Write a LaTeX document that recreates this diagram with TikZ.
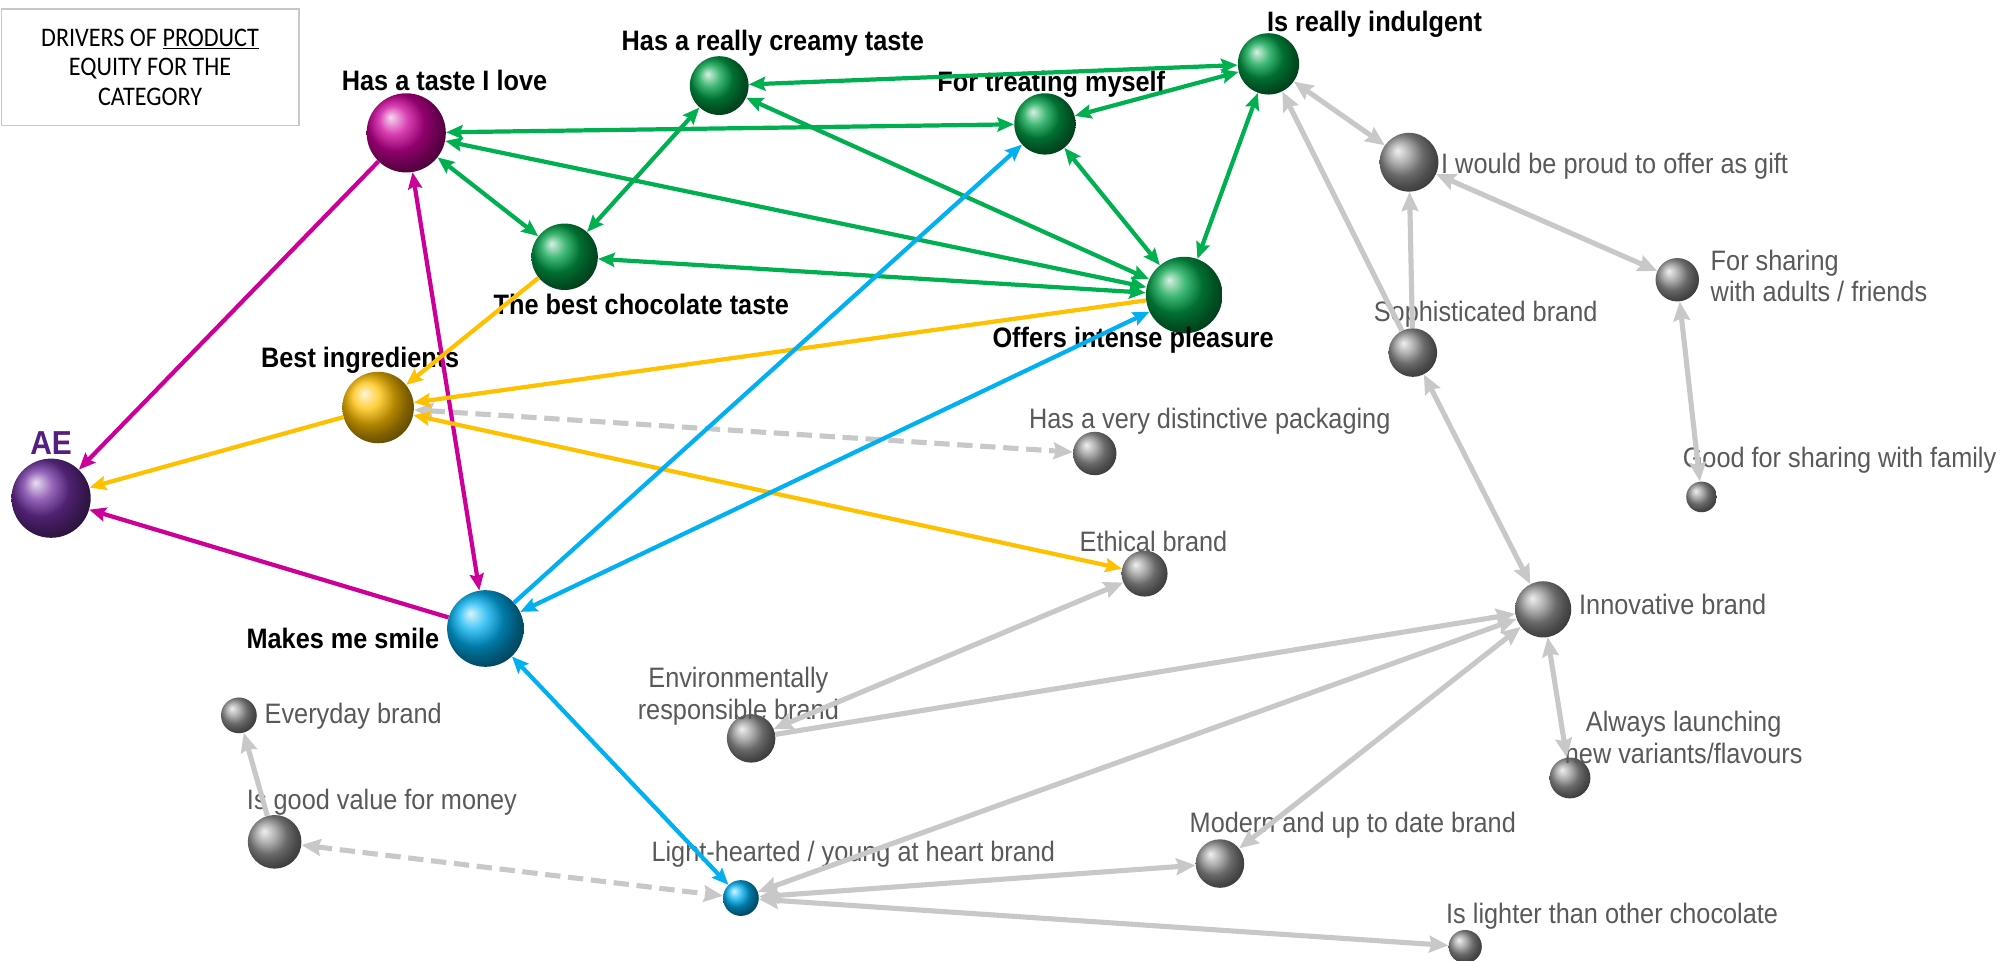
\documentclass[tikz,border=0pt]{standalone}
\usepackage{fontspec}
\setmainfont{Liberation Sans}[FakeStretch=0.9]
\newfontfamily\boxfont{Carlito}[FakeStretch=0.9]
\usetikzlibrary{positioning, arrows.meta, shapes.geometric}
\definecolor{greyt}{RGB}{89,89,89}
\definecolor{greyl}{RGB}{200,200,200}
\definecolor{greyb}{RGB}{150,150,150}
\definecolor{linkg}{RGB}{0,176,80}
\definecolor{ballg}{RGB}{0,160,70}
\definecolor{magc}{RGB}{204,0,153}
\definecolor{goldc}{RGB}{255,192,0}
\definecolor{cyanc}{RGB}{0,176,240}
\definecolor{aec}{RGB}{112,48,160}
\definecolor{aetext}{RGB}{84,30,130}

\begin{document}
\begin{tikzpicture}[x=1pt, y=-1pt, >={Stealth[length=13pt,width=11pt,inset=2pt]},
                    bl/.style={circle, inner sep=0pt, minimum size=#1pt},
                    hd/.style={font=\bfseries\fontsize{22}{26}\selectfont, inner sep=1pt},
                    gt/.style={font=\fontsize{22}{25}\selectfont, text=greyt, inner sep=1pt},
                    gr/.style={linkg, line width=3.3pt}, mg/.style={magc, line width=3.3pt},
                    gd/.style={goldc, line width=3.3pt}, cy/.style={cyanc, line width=3.3pt},
                    lg/.style={greyl, line width=4pt, >={Stealth[length=15pt,width=13pt,inset=2pt]}},
                    lgd/.style={lg, dash pattern=on 12pt off 6pt}]
  \useasboundingbox (0,0) rectangle (1568,752);
  % key box
  \node[draw=greyl, line width=1pt, minimum width=233pt, minimum height=91pt, align=center,
        font=\boxfont\fontsize{21}{23}\selectfont] (key) at (117.5,52.5)
        {DRIVERS OF \underline{PRODUCT}\\EQUITY FOR THE\\CATEGORY};
  % drivers
  \node[bl=62, ball color=aec] (ae) at (40,390) {};
  \node[bl=62, ball color=magc] (love) at (318,104) {};
  \node[bl=46, ball color=ballg] (cream) at (563,67) {};
  \node[bl=48, ball color=ballg] (indul) at (993,50) {};
  \node[bl=48, ball color=ballg] (treat) at (818,97) {};
  \node[bl=52, ball color=ballg] (bestc) at (442,201) {};
  \node[bl=60, ball color=ballg] (inten) at (927,231) {};
  \node[bl=56, ball color=goldc] (ingr) at (296,319) {};
  \node[bl=60, ball color=cyanc] (smile) at (380,492) {};
  \node[bl=28, ball color=cyanc] (light) at (580,703) {};
  % grey attributes
  \node[bl=46, ball color=greyb] (proud) at (1103,127) {};
  \node[bl=34, ball color=greyb] (share) at (1313,219) {};
  \node[bl=38, ball color=greyb] (sophi) at (1106,276) {};
  \node[bl=24, ball color=greyb] (family) at (1332,389) {};
  \node[bl=34, ball color=greyb] (pack) at (857,355) {};
  \node[bl=36, ball color=greyb] (ethic) at (896,449) {};
  \node[bl=44, ball color=greyb] (innov) at (1208,477) {};
  \node[bl=32, ball color=greyb] (launch) at (1229,609) {};
  \node[bl=38, ball color=greyb] (envir) at (588,578) {};
  \node[bl=28, ball color=greyb] (every) at (187,560) {};
  \node[bl=42, ball color=greyb] (value) at (215,659) {};
  \node[bl=38, ball color=greyb] (modern) at (955,676) {};
  \node[bl=26, ball color=greyb] (lighter) at (1147,741) {};
  % labels
  \node[font=\bfseries\fontsize{26}{28}\selectfont, text=aetext] (aet) at (40,347) {AE};
  \node[hd] (lovet) at (348,63) {Has a taste I love};
  \node[hd] (creamt) at (605,34) {Has a really creamy taste};
  \node[hd] (indult) at (1076,19) {Is really indulgent};
  \node[hd] (treatt) at (823,66) {For treating myself};
  \node[hd] (bestct) at (502,238) {The best chocolate taste};
  \node[hd] (intent) at (887,266) {Offers intense pleasure};
  \node[hd] (ingrt) at (282,282) {Best ingredients};
  \node[hd, anchor=east] (smilet) at (345,500) {Makes me smile};
  \node[gt] (lightt) at (668,669) {Light-hearted / young at heart brand};
  \node[gt, anchor=west] (proudt) at (1127,130) {I would be proud to offer as gift};
  \node[gt, anchor=west, align=left] (sharet) at (1338,216) {For sharing\\with adults / friends};
  \node[gt] (sophit) at (1163,246) {Sophisticated brand};
  \node[gt] (familyt) at (1440,360) {Good for sharing with family};
  \node[gt] (packt) at (947,330) {Has a very distinctive packaging};
  \node[gt] (ethict) at (903,424) {Ethical brand};
  \node[gt, anchor=west] (innovt) at (1235,473) {Innovative brand};
  \node[gt, align=center] (launcht) at (1318,577) {Always launching\\new variants/flavours};
  \node[gt, align=center] (envirt) at (578,545) {Environmentally\\responsible brand};
  \node[gt, anchor=west] (everyt) at (206,561) {Everyday brand};
  \node[gt] (valuet) at (299,628) {Is good value for money};
  \node[gt] (modernt) at (1059,646) {Modern and up to date brand};
  \node[gt] (lightert) at (1262,717) {Is lighter than other chocolate};
  % grey links
  \draw[lg, <->] (indul) -- (proud);
  \draw[lg, ->] (sophi) -- (indul);
  \draw[lg, ->] (sophi) -- (proud);
  \draw[lg, <->] (proud) -- (share);
  \draw[lg, <->] (share) -- (family);
  \draw[lg, <->] (sophi) -- (innov);
  \draw[lg, <->] (innov) -- (launch);
  \draw[lg, ->] (envir) -- (innov);
  \draw[lg, <->] (envir) -- (ethic);
  \draw[lg, <->] (light) -- (innov);
  \draw[lg, <->] (modern) -- (innov);
  \draw[lg, <->] (light) -- (modern);
  \draw[lg, <->] (light) -- (lighter);
  \draw[lg, ->] (value) -- (every);
  \draw[lgd, <->] (ingr) -- (pack);
  \draw[lgd, <->] (value) -- (light);
  % green links
  \draw[gr, <->] (cream) -- (indul);
  \draw[gr, <->] (love) -- (treat);
  \draw[gr, <->] (treat) -- (indul);
  \draw[gr, <->] (love) -- (bestc);
  \draw[gr, <->] (cream) -- (bestc);
  \draw[gr, <->] (love) -- (inten);
  \draw[gr, <->] (bestc) -- (inten);
  \draw[gr, <->] (cream) -- (inten);
  \draw[gr, <->] (treat) -- (inten);
  \draw[gr, <->] (indul) -- (inten);
  % magenta, gold, blue links
  \draw[mg, ->] (love) -- (ae);
  \draw[mg, <->] (love) -- (smile);
  \draw[mg, ->] (smile) -- (ae);
  \draw[gd, ->] (ingr) -- (ae);
  \draw[gd, ->] (bestc) -- (ingr);
  \draw[gd, ->] (inten) -- (ingr);
  \draw[gd, <->] (ingr) -- (ethic);
  \draw[cy, ->] (smile) -- (treat);
  \draw[cy, <->] (smile) -- (inten);
  \draw[cy, <->] (smile) -- (light);
\end{tikzpicture}
\end{document}
